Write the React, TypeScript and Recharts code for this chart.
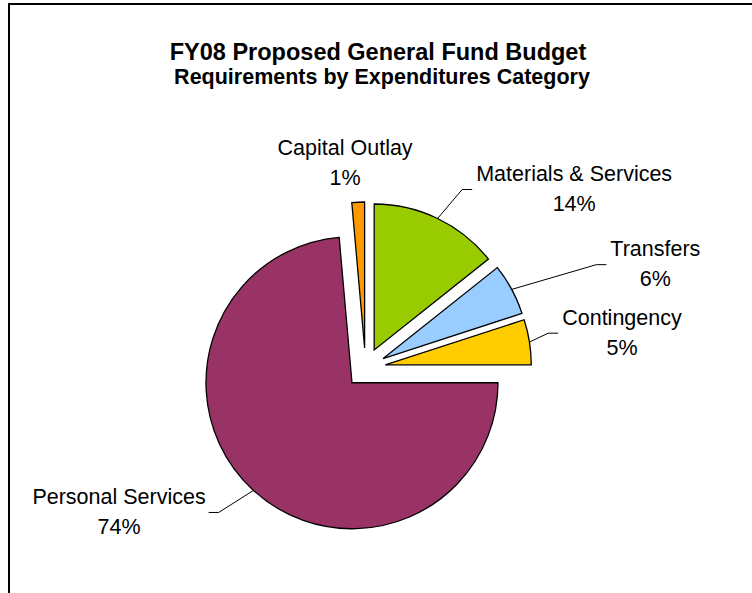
import { PieChart, Pie, Sector } from 'recharts'

const categories = ['Materials & Services', 'Transfers', 'Contingency', 'Personal Services', 'Capital Outlay']
const shares = [14.3, 5.7, 5.0, 73.6, 1.4]
const colors = ['#99CC00', '#99CCFF', '#FFCC00', '#993366', '#FF9900']

// labels were hand-placed in the original, so each gets its own distance / turn
const labelDist = [183, 233, 166, 186, 186]
const labelTurn = [3, 4.5, -2, 3.3, -3.5] // degrees, clockwise
const hasLeader = [true, true, true, true, false]

const data = categories.map((name, i) => ({ name, value: shares[i] }))

const RAD = Math.PI / 180
const EXPLODE = 20
const FONT = '"Liberation Sans", Arial, sans-serif'
const LABEL_SIZE = 21.5

const polar = (cx: number, cy: number, r: number, angle: number) => ({
  x: cx + Math.cos(-angle * RAD) * r,
  y: cy + Math.sin(-angle * RAD) * r,
})

let ctx: CanvasRenderingContext2D | null = null
function textWidth(s: string) {
  if (!ctx) ctx = document.createElement('canvas').getContext('2d')
  if (!ctx) return s.length * LABEL_SIZE * 0.5
  ctx.font = `${LABEL_SIZE}px ${FONT}`
  return ctx.measureText(s).width
}

function SliceWithLabel(props: any) {
  const { cx, cy, outerRadius, startAngle, endAngle, midAngle, index, percent } = props
  const c = polar(cx, cy, EXPLODE, midAngle)
  const edge = polar(c.x, c.y, outerRadius, midAngle)
  const elbow = polar(c.x, c.y, labelDist[index], midAngle - labelTurn[index])
  const right = elbow.x >= c.x
  const lines = [categories[index], `${Math.round(percent * 100)}%`]
  const w = Math.max(...lines.map(textWidth))

  let tx = elbow.x
  let tailX = elbow.x
  if (hasLeader[index]) {
    tailX = elbow.x + (right ? 10 : -10)
    tx = right ? tailX + 4 + w / 2 : tailX - 3 - w / 2
  }

  return (
    <g>
      <Sector
        cx={c.x}
        cy={c.y}
        innerRadius={0}
        outerRadius={outerRadius}
        startAngle={startAngle}
        endAngle={endAngle}
        fill={colors[index]}
        stroke="#000"
        strokeWidth={1.3}
      />
      {hasLeader[index] && (
        <polyline
          points={`${edge.x},${edge.y} ${elbow.x},${elbow.y} ${tailX},${elbow.y}`}
          fill="none"
          stroke="#000"
          strokeWidth={1}
        />
      )}
      <text x={tx} y={elbow.y - 8.5} textAnchor="middle" fill="#000" stroke="none"
        style={{ fontFamily: FONT, fontSize: LABEL_SIZE }}>
        {lines[0]}
      </text>
      <text x={tx} y={elbow.y + 21.5} textAnchor="middle" fill="#000" stroke="none"
        style={{ fontFamily: FONT, fontSize: LABEL_SIZE }}>
        {lines[1]}
      </text>
    </g>
  )
}

export default function App() {
  return (
    <div style={{ position: 'absolute', left: 0, top: 0, width: 752, height: 593, background: '#fff', overflow: 'hidden' }}>
      {/* chart frame: only the top and left edges fall inside the picture */}
      <div style={{ position: 'absolute', left: 8, top: 3, width: 742, height: 588, borderTop: '2px solid #000', borderLeft: '2px solid #000' }} />
      <div style={{ position: 'absolute', left: 0, width: 752, top: 41, textAlign: 'center', fontFamily: FONT, fontWeight: 'bold', fontSize: 23.5, lineHeight: 1, color: '#000' }}>
        <span style={{ position: 'relative', left: 2 }}>FY08 Proposed General Fund Budget</span>
      </div>
      <div style={{ position: 'absolute', left: 0, width: 752, top: 67, textAlign: 'center', fontFamily: FONT, fontWeight: 'bold', fontSize: 21.5, lineHeight: 1, color: '#000' }}>
        <span style={{ position: 'relative', left: 6 }}>Requirements by Expenditures Category</span>
      </div>
      <div style={{ position: 'absolute', left: 0, top: 0 }}>
        <PieChart width={752} height={593} margin={{ top: 0, right: 0, bottom: 0, left: 0 }}>
          <Pie
            data={data}
            dataKey="value"
            nameKey="name"
            cx={365.5}
            cy={368}
            outerRadius={146}
            startAngle={90}
            endAngle={-270}
            fill="none"
            stroke="none"
            label={SliceWithLabel}
            labelLine={false}
            isAnimationActive={false}
          />
        </PieChart>
      </div>
    </div>
  )
}
